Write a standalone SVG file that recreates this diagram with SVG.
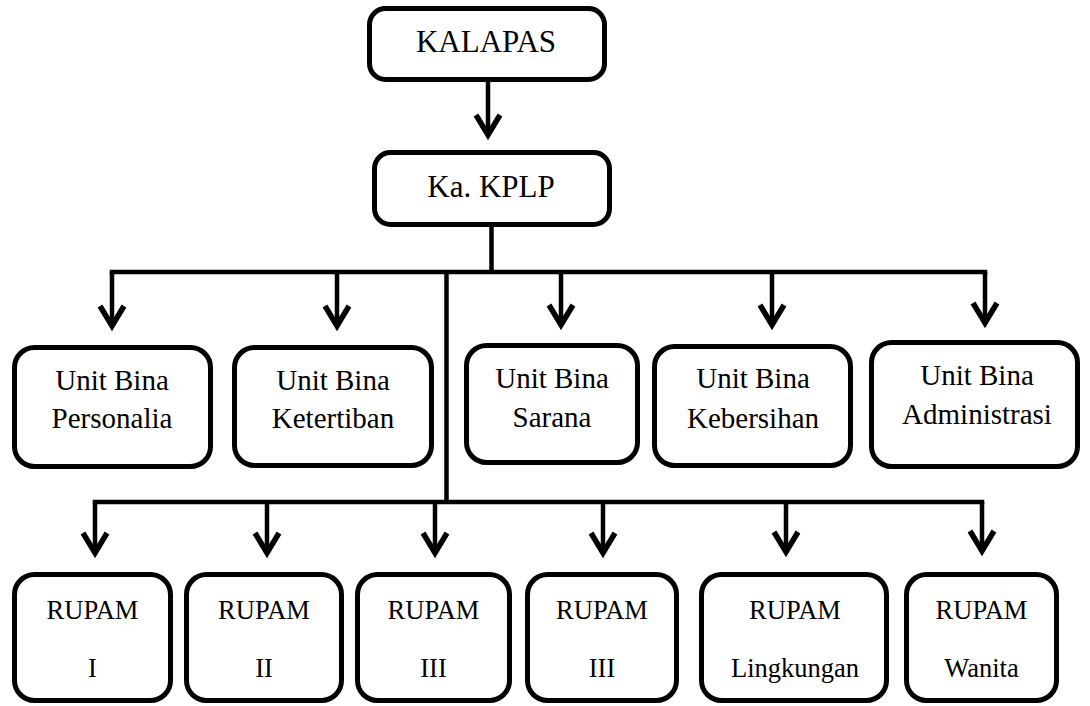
<svg xmlns="http://www.w3.org/2000/svg" width="1090" height="706" viewBox="0 0 1090 706">
<style>
.box{fill:#fff;stroke:#000;stroke-width:5}
.ln{fill:none;stroke:#000;stroke-width:4.5}
.arw{fill:none;stroke:#000;stroke-width:4.5;marker-end:url(#arr)}
text{font-family:'Liberation Serif',serif;fill:#000;text-anchor:middle}
.t1{font-size:31px}
.t2{font-size:29px}
.t3{font-size:26.5px}
</style>
<defs>
<marker id="arr" markerUnits="userSpaceOnUse" markerWidth="40" markerHeight="40" viewBox="-25 -20 40 40" refX="0" refY="0" orient="auto" overflow="visible">
<path d="M-18,-12 L2,0 L-18,12" fill="none" stroke="#000" stroke-width="5.5" stroke-linejoin="miter"/>
</marker>
</defs>
<g id="connectors">
<line class="arw" x1="488" y1="82" x2="488" y2="133"/>
<line class="ln" x1="491.5" y1="227" x2="491.5" y2="272"/>
<polyline class="ln" points="112,274.5 112,272 985,272 985,274.5"/>
<line class="arw" x1="112" y1="272" x2="112" y2="324"/>
<line class="arw" x1="337" y1="272" x2="337" y2="324"/>
<line class="arw" x1="561" y1="272" x2="561" y2="323"/>
<line class="arw" x1="772" y1="272" x2="772" y2="323"/>
<line class="arw" x1="985" y1="272" x2="985" y2="321"/>
<line class="ln" x1="446.5" y1="272" x2="446.5" y2="502"/>
<polyline class="ln" points="95,504.5 95,502 982,502 982,504.5"/>
<line class="arw" x1="95" y1="502" x2="95" y2="551"/>
<line class="arw" x1="267" y1="502" x2="267" y2="551"/>
<line class="arw" x1="435" y1="502" x2="435" y2="551"/>
<line class="arw" x1="603" y1="502" x2="603" y2="551"/>
<line class="arw" x1="786" y1="502" x2="786" y2="550"/>
<line class="arw" x1="982" y1="502" x2="982" y2="549"/>
</g>
<g id="kalapas">
<rect class="box" x="369.5" y="8.5" width="235" height="71" rx="16"/>
<text class="t1" x="486" y="52" font-family="Liberation Serif">KALAPAS</text>
</g>
<g id="kplp">
<rect class="box" x="374.5" y="152.5" width="235" height="72" rx="16"/>
<text class="t1" x="491" y="197" font-family="Liberation Serif">Ka. KPLP</text>
</g>
<g id="personalia">
<rect class="box" x="14.5" y="347.5" width="196" height="119" rx="20"/>
<text class="t2" x="112" y="390">Unit Bina</text>
<text class="t2" x="112" y="428">Personalia</text>
</g>
<g id="ketertiban">
<rect class="box" x="234.5" y="347.5" width="197" height="118" rx="20"/>
<text class="t2" x="333" y="390">Unit Bina</text>
<text class="t2" x="333" y="428">Ketertiban</text>
</g>
<g id="sarana">
<rect class="box" x="466.5" y="345.5" width="171" height="117" rx="20"/>
<text class="t2" x="552" y="388">Unit Bina</text>
<text class="t2" x="552" y="427">Sarana</text>
</g>
<g id="kebersihan">
<rect class="box" x="654.5" y="346.5" width="196" height="119" rx="20"/>
<text class="t2" x="753" y="388">Unit Bina</text>
<text class="t2" x="753" y="428">Kebersihan</text>
</g>
<g id="administrasi">
<rect class="box" x="871.5" y="342.5" width="206" height="124" rx="20"/>
<text class="t2" x="977" y="385">Unit Bina</text>
<text class="t2" x="977" y="424">Administrasi</text>
</g>
<g id="rupam1">
<rect class="box" x="14.5" y="574.5" width="156" height="126" rx="20"/>
<text class="t3" x="92.5" y="619">RUPAM</text>
<text class="t3" x="92.5" y="677">I</text>
</g>
<g id="rupam2">
<rect class="box" x="186.5" y="574.5" width="155" height="126" rx="20"/>
<text class="t3" x="264" y="619">RUPAM</text>
<text class="t3" x="264" y="677">II</text>
</g>
<g id="rupam3">
<rect class="box" x="357.5" y="574.5" width="152" height="126" rx="20"/>
<text class="t3" x="433.5" y="619">RUPAM</text>
<text class="t3" x="433.5" y="677">III</text>
</g>
<g id="rupam3b">
<rect class="box" x="527.5" y="574.5" width="149" height="126" rx="20"/>
<text class="t3" x="602" y="619">RUPAM</text>
<text class="t3" x="602" y="677">III</text>
</g>
<g id="rupam-lingkungan">
<rect class="box" x="701.5" y="574.5" width="185" height="126" rx="20"/>
<text class="t3" x="795" y="619">RUPAM</text>
<text class="t3" x="795" y="677">Lingkungan</text>
</g>
<g id="rupam-wanita">
<rect class="box" x="906.5" y="574.5" width="150" height="126" rx="20"/>
<text class="t3" x="981.5" y="619">RUPAM</text>
<text class="t3" x="981.5" y="677">Wanita</text>
</g>
</svg>
